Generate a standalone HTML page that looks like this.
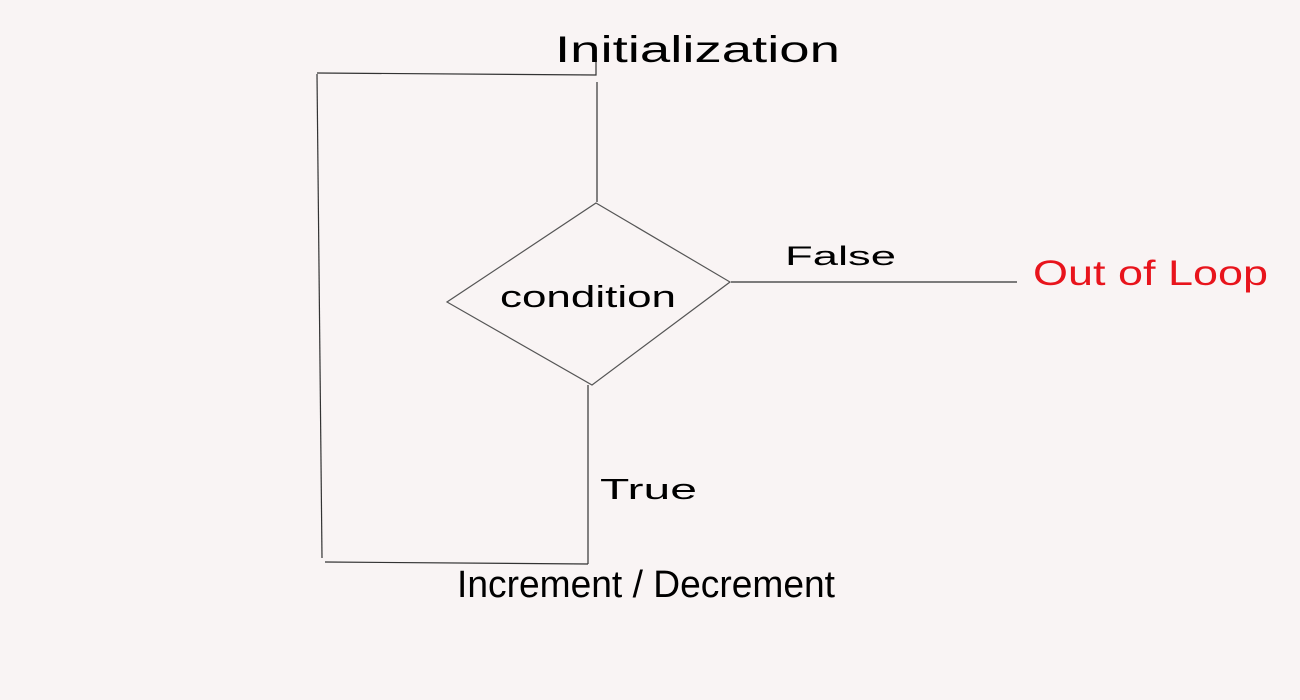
<!DOCTYPE html>
<html><head><meta charset="utf-8"><style>
html,body{margin:0;padding:0;background:#f9f4f4;}
svg{display:block;}
text{font-family:"Liberation Sans",sans-serif;}
</style></head><body>
<svg width="1300" height="700" viewBox="0 0 1300 700" xmlns="http://www.w3.org/2000/svg">
<rect width="1300" height="700" fill="#f9f4f4"/>
<g stroke="#333" stroke-width="1.2" fill="none">
<polyline points="317,73 596,75 596,56"/>
<line x1="597" y1="82" x2="597" y2="202"/>
<polygon points="596,203 730,282 592,385 447,302" stroke="#555"/>
<line x1="731" y1="282" x2="1017" y2="282"/>
<line x1="588" y1="385" x2="588" y2="564"/>
<line x1="325" y1="562" x2="588" y2="564"/>
<line x1="317" y1="74" x2="322" y2="558"/>
</g>
<text x="555" y="62" font-size="37" textLength="285" lengthAdjust="spacingAndGlyphs" fill="#000">Initialization</text>
<text x="500" y="307" font-size="31" textLength="176" lengthAdjust="spacingAndGlyphs" fill="#000">condition</text>
<text x="785" y="265" font-size="27" textLength="111" lengthAdjust="spacingAndGlyphs" fill="#000">False</text>
<text x="1033" y="285" font-size="35" textLength="235" lengthAdjust="spacingAndGlyphs" fill="#e8141c">Out of Loop</text>
<text x="600" y="499" font-size="29" textLength="97" lengthAdjust="spacingAndGlyphs" fill="#000">True</text>
<text x="457" y="597" font-size="38" textLength="378" lengthAdjust="spacingAndGlyphs" fill="#000">Increment / Decrement</text>
</svg>
</body></html>
